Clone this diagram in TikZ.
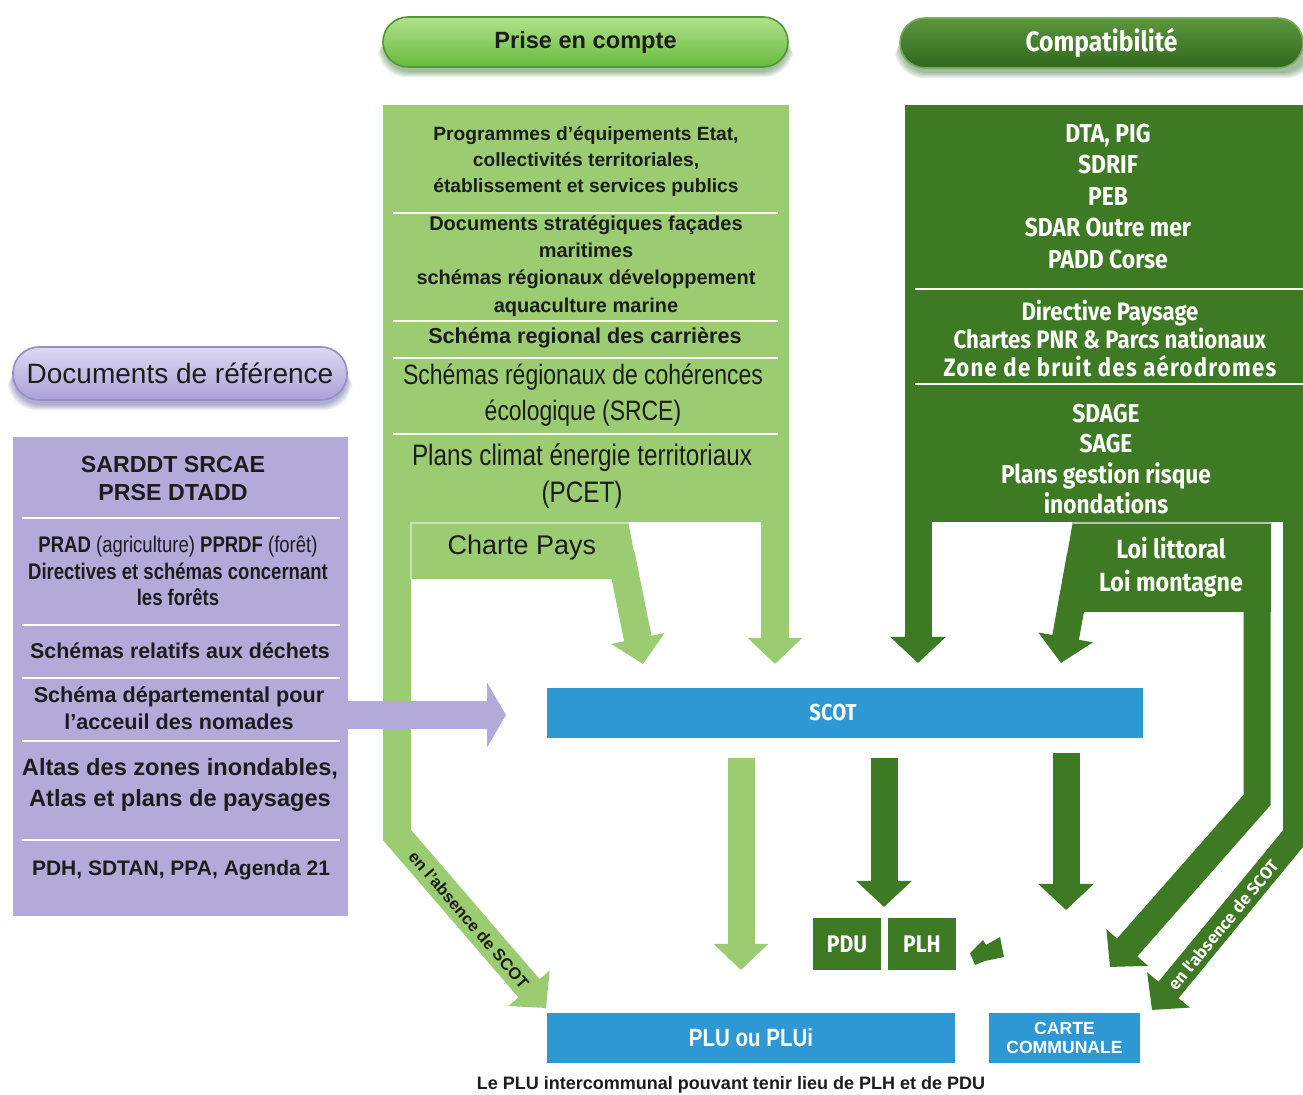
\documentclass[tikz,border=0pt]{standalone}
\usepackage{fontspec}
\setmainfont{Liberation Sans}
\newfontfamily\arn[FakeStretch=0.82]{Liberation Sans}
\newfontfamily\cnd[FakeStretch=0.88]{Fira Sans}
\newfontfamily\cndls[FakeStretch=0.88,LetterSpace=5]{Fira Sans}
\newfontfamily\fira{Fira Sans}
\usetikzlibrary{arrows.meta}
\definecolor{lg}{RGB}{156,204,114}
\definecolor{dg}{RGB}{62,121,36}
\definecolor{pu}{RGB}{179,170,217}
\definecolor{bl}{RGB}{46,152,212}
\definecolor{tx}{RGB}{28,28,28}
\definecolor{lgtop}{RGB}{176,226,140}
\definecolor{lgbot}{RGB}{104,186,62}
\definecolor{lgedge}{RGB}{84,150,50}
\definecolor{dgtop}{RGB}{92,150,62}
\definecolor{dgbot}{RGB}{48,104,28}
\definecolor{dgedge}{RGB}{120,170,90}
\definecolor{putop}{RGB}{222,217,243}
\definecolor{pubot}{RGB}{170,160,214}
\definecolor{puedge}{RGB}{150,140,200}
\begin{document}
\begin{tikzpicture}[x=0.5pt,y=-0.5pt,
  every node/.style={inner sep=0pt, outer sep=0pt, align=center},
  lgarrow/.style={draw=lg, line width=14pt, line join=miter, -{Triangle[width=26.5pt,length=13pt]}},
  dgarrow/.style={draw=dg, line width=13.5pt, line join=miter, -{Triangle[width=27pt,length=13pt]}},
  sepline/.style={draw=white, line width=1.1pt},
  pill/.style={rounded corners=12.5pt, minimum height=25pt, line width=0.8pt},
  bluebox/.style={fill=bl, minimum height=25pt},
  greenbox/.style={fill=dg, minimum height=26pt, minimum width=34pt},
]
\useasboundingbox (0,0) rectangle (1303,1095);
\fill[white] (0,0) rectangle (1303,1095);

% ---------- pill shadows ----------
\foreach \i in {0,...,5} {
  \fill[black!70!green, opacity=0.07, rounded corners=14pt] (383-\i,26+\i) rectangle (788+\i,72+\i);
  \fill[black!70!green, opacity=0.07, rounded corners=14pt] (900-\i,26+\i) rectangle (1310+\i,73+\i);
  \fill[black!60!blue, opacity=0.06, rounded corners=14pt] (13-\i,356+\i) rectangle (347+\i,405+\i);
}

% ---------- pills ----------
\node[pill, draw=lgedge, top color=lgtop, bottom color=lgbot, minimum width=202.5pt,
      font=\bfseries\fontsize{11.8}{14}\selectfont, text=tx] (prise) at (585.5,42) {Prise en compte};
\node[pill, draw=dgedge, top color=dgtop, bottom color=dgbot, minimum width=201.5pt,
      font=\cnd\bfseries\fontsize{14}{16}\selectfont, text=white] (compat) at (1101.5,43) {Compatibilité};
\node[pill, rounded corners=13pt, draw=puedge, top color=putop, bottom color=pubot,
      minimum width=167pt, minimum height=26.5pt,
      font=\fontsize{14}{16}\selectfont, text=tx] (dref) at (180,373.5) {Documents de référence};

% ---------- main panels ----------
\fill[lg] (383,105) rectangle (789,522);
\fill[dg] (905,105) rectangle (1303,522);
\fill[pu] (13,437) rectangle (348,916);

% ---------- light green frame ----------
\fill[lg] (411,521) -- (628,521) -- (639.2,579) -- (411,579) -- cycle;
\coordinate (chs) at (621,555);
\coordinate (cht) at (643,664);
\draw[lgarrow] (chs) -- (cht);
\coordinate (rss) at (775,515);
\coordinate (rst) at (775,664);
\draw[lgarrow] (rss) -- (rst);
\coordinate (ll0) at (397,515);
\coordinate (ll1) at (397,835);
\coordinate (llt) at (546,1008);
\draw[lgarrow] (ll0) -- (ll1) -- (llt);
\draw[white, opacity=0.45, line width=0.8pt] (411,579) -- (411,523) -- (628,523);

% ---------- dark green frame ----------
\coordinate (ds0) at (918,515);
\coordinate (dst) at (918,663);
\draw[dgarrow] (ds0) -- (dst);
\fill[dg] (1073,521) -- (1271,521) -- (1271,612) -- (1057,612) -- cycle;
\coordinate (los) at (1080.5,555);
\coordinate (lot) at (1061,663);
\draw[dgarrow] (los) -- (lot);
\coordinate (il0) at (1257,600);
\coordinate (il1) at (1257,800);
\coordinate (ilt) at (1110,967);
\draw[dgarrow] (il0) -- (il1) -- (ilt);
\coordinate (ol0) at (1296,515);
\coordinate (ol1) at (1296,835);
\coordinate (olt) at (1152,1010);
\draw[dgarrow, line width=13pt] (ol0) -- (ol1) -- (olt);
\draw[white, opacity=0.6, line width=0.8pt] (1073,523) -- (1271,523);

% ---------- separators ----------
\foreach \y in {213,321,358,434} \draw[sepline] (393,\y) -- (778,\y);
\foreach \y in {289,384} \draw[sepline] (915,\y) -- (1303,\y);
\foreach \y in {518,625,678,741,840} \draw[sepline] (22,\y) -- (340,\y);

% ---------- blue boxes ----------
\node[bluebox, minimum width=298pt] (scot) at (845,713) {};
\node[font=\cnd\bfseries\fontsize{11.5}{13}\selectfont, text=white] (scotlbl) at (833,713) {SCOT};
\node[bluebox, minimum width=204pt, font=\arn\bfseries\fontsize{12.5}{14}\selectfont, text=white] (plu) at (751,1038) {PLU ou PLUi};
\node[bluebox, minimum width=75.5pt, font=\bfseries\fontsize{8.8}{9.6}\selectfont, text=white] (carte) at (1064.5,1038) {CARTE\\COMMUNALE};
\node[greenbox, font=\cnd\bfseries\fontsize{12}{14}\selectfont, text=white] (pdu) at (847,944) {PDU};
\node[greenbox, font=\cnd\bfseries\fontsize{12}{14}\selectfont, text=white] (plh) at (922,944) {PLH};

% ---------- purple arrow ----------
\coordinate (pa0) at (340,715);
\coordinate (pa1) at (506,715);
\draw[draw=pu, line width=14pt, -{Triangle[width=32pt,length=9.5pt]}] (pa0) -- (pa1);

% ---------- arrows below SCOT ----------
\coordinate (a1s) at (741,758); \coordinate (a1e) at (741,970);
\draw[lgarrow, line width=13.5pt] (a1s) -- (a1e);
\coordinate (a2s) at (884,758); \coordinate (a2e) at (884,907);
\draw[dgarrow] (a2s) -- (a2e);
\coordinate (a3s) at (1066,753); \coordinate (a3e) at (1066,910);
\draw[dgarrow] (a3s) -- (a3e);
\fill[dg] (970,953) -- (983,940) -- (986,945) -- (1000,937) -- (1004,957) -- (985,961) -- (975,965) -- cycle;

% ---------- light green texts ----------
\node[font=\bfseries\fontsize{9.6}{13}\selectfont, text=tx] (prog) at (586,161)
  {Programmes d'équipements Etat,\\collectivités territoriales,\\établissement et services publics};
\node[font=\bfseries\fontsize{10}{13.7}\selectfont, text=tx] (docs) at (586,266)
  {Documents stratégiques façades\\maritimes\\schémas régionaux développement\\aquaculture marine};
\node[font=\bfseries\fontsize{10.8}{13}\selectfont, text=tx] (carr) at (585,338) {Schéma regional des carrières};
\node[font=\arn\fontsize{14}{18}\selectfont, text=tx] (srce) at (583,395) {Schémas régionaux de cohérences\\écologique (SRCE)};
\node[font=\arn\fontsize{14.8}{18.5}\selectfont, text=tx] (pcet) at (582,476) {Plans climat énergie territoriaux\\(PCET)};
\node[font=\fontsize{13.5}{16}\selectfont, text=tx] (charte) at (522,548) {Charte Pays};

% ---------- dark green texts ----------
\node[font=\cnd\bfseries\fontsize{13}{15.75}\selectfont, text=white] (g1) at (1108,196)
  {DTA, PIG\\SDRIF\\PEB\\SDAR Outre mer\\PADD Corse};
\node[font=\cnd\bfseries\fontsize{12.6}{14}\selectfont, text=white] (g2) at (1110,339)
  {Directive Paysage\\Chartes PNR \& Parcs nationaux\\{\cndls Zone de bruit des aérodromes}};
\node[font=\cnd\bfseries\fontsize{12.9}{15.2}\selectfont, text=white] (g3) at (1106,459)
  {SDAGE\\SAGE\\Plans gestion risque\\inondations};
\node[font=\cnd\bfseries\fontsize{13.2}{16.5}\selectfont, text=white] (loi) at (1171,567)
  {Loi littoral\\Loi montagne};

% ---------- purple texts ----------
\node[font=\bfseries\fontsize{11.6}{14}\selectfont, text=tx] (sarddt) at (173,479) {SARDDT SRCAE\\PRSE DTADD};
\node[font=\arn\bfseries\fontsize{11.3}{13.3}\selectfont, text=tx] (prad) at (178,571)
  {PRAD {\mdseries(agriculture)} PPRDF {\mdseries(forêt)}\\Directives et schémas concernant\\les forêts};
\node[font=\bfseries\fontsize{10.7}{13}\selectfont, text=tx] (dech) at (180,651) {Schémas relatifs aux déchets};
\node[font=\bfseries\fontsize{10.8}{13.5}\selectfont, text=tx] (nomad) at (179,708) {Schéma départemental pour\\l'acceuil des nomades};
\node[font=\bfseries\fontsize{11.8}{15.5}\selectfont, text=tx] (atlas) at (180,785) {Altas des zones inondables,\\Atlas et plans de paysages};
\node[font=\bfseries\fontsize{10.5}{13}\selectfont, text=tx] (pdh) at (181,870) {PDH, SDTAN, PPA, Agenda 21};

% ---------- diagonal labels and caption ----------
\node[rotate=-49.3, font=\bfseries\fontsize{8.3}{10}\selectfont, text=tx] (absl) at (469,920) {en l'absence de SCOT};
\node[rotate=50.5, font=\fira\bfseries\fontsize{8.5}{10}\selectfont, text=white] (absr) at (1223,925) {en l'absence de SCOT};
\node[font=\bfseries\fontsize{9}{11}\selectfont, text=tx] (cap) at (731,1085) {Le PLU intercommunal pouvant tenir lieu de PLH et de PDU};
\end{tikzpicture}
\end{document}
